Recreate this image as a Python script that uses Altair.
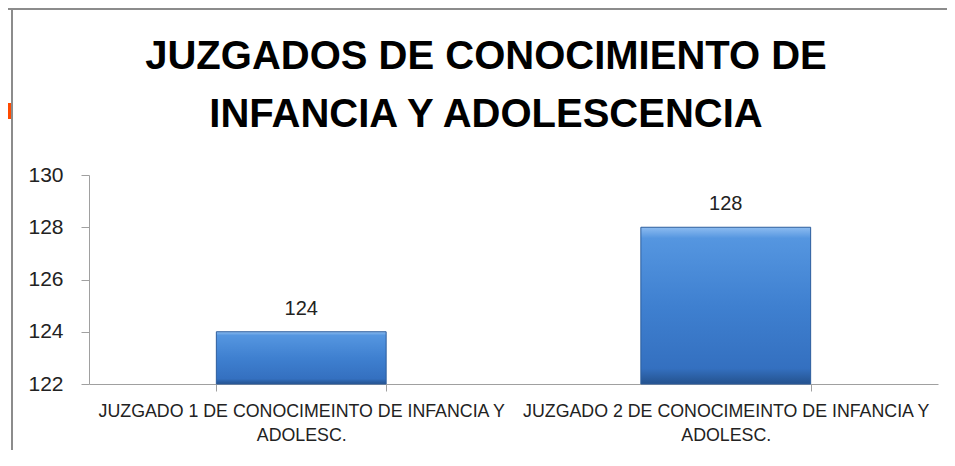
import altair as alt
import pandas as pd

categories = [
    "JUZGADO 1 DE CONOCIMEINTO DE INFANCIA Y\nADOLESC.",
    "JUZGADO 2 DE CONOCIMEINTO DE INFANCIA Y\nADOLESC.",
]
values = [124, 128]
y_ticks = [122, 124, 126, 128, 130]
title_lines = ["JUZGADOS DE CONOCIMIENTO DE", "INFANCIA Y ADOLESCENCIA"]

df = pd.DataFrame({"cat": categories, "val": values})

FONT = "Liberation Sans"

x_enc = alt.X(
    "cat:N",
    sort=categories,
    title=None,
    scale=alt.Scale(paddingInner=0.6, paddingOuter=0.3),
    axis=alt.Axis(
        labelExpr="split(datum.label, '\\n')",
        labelAngle=0,
        labelLimit=0,
        labelOverlap=False,
        labelFont=FONT,
        labelFontSize=17.8,
        labelColor="#222222",
        labelLineHeight=24,
        labelPadding=11,
        labelBaseline="top",
        tickBand="extent",
        tickSize=7,
        tickColor="#a0a0a0",
        domainColor="#a0a0a0",
        grid=False,
    ),
)

y_scale = alt.Scale(domain=[122, 130], nice=False, zero=False)

bars = alt.Chart(df).mark_bar(
    color=alt.Gradient(
        gradient="linear",
        x1=0, x2=0, y1=0, y2=1,
        stops=[
            alt.GradientStop(offset=0, color="#8dbcf0"),
            alt.GradientStop(offset=0.07, color="#5596e0"),
            alt.GradientStop(offset=0.5, color="#3f80d0"),
            alt.GradientStop(offset=0.9, color="#3470c0"),
            alt.GradientStop(offset=1, color="#24528e"),
        ],
    ),
    stroke="#2c5d9c",
    strokeWidth=1,
).encode(
    x=x_enc,
    y=alt.Y(
        "val:Q",
        scale=y_scale,
        title=None,
        axis=alt.Axis(
            values=y_ticks,
            labelFont=FONT,
            labelFontSize=21,
            labelColor="#222222",
            labelPadding=18,
            tickSize=8,
            tickColor="#a0a0a0",
            domainColor="#a0a0a0",
            grid=False,
        ),
    ),
    y2=alt.datum(122),
)

labels = alt.Chart(df).mark_text(
    font=FONT, fontSize=20, color="#222222", baseline="alphabetic", dy=-17
).encode(
    x=alt.X("cat:N", sort=categories),
    y=alt.Y("val:Q", scale=y_scale),
    text=alt.Text("val:Q"),
)

deco = pd.DataFrame({"a": [0]})
title1 = alt.Chart(deco).mark_text(
    text=title_lines[0], font=FONT, fontSize=40, fontWeight="bold",
    color="#000000", align="center", baseline="alphabetic",
).encode(x=alt.value(397), y=alt.value(-106))
title2 = alt.Chart(deco).mark_text(
    text=title_lines[1], font=FONT, fontSize=40, fontWeight="bold",
    color="#000000", align="center", baseline="alphabetic",
).encode(x=alt.value(397), y=alt.value(-48))

top_border = alt.Chart(deco).mark_rule(color="#8c8c8c", strokeWidth=2).encode(
    x=alt.value(-81), x2=alt.value(858), y=alt.value(-166)
)
left_border = alt.Chart(deco).mark_rule(color="#8c8c8c", strokeWidth=2).encode(
    x=alt.value(-77), y=alt.value(-167), y2=alt.value(275)
)
orange = alt.Chart(deco).mark_rule(color="#ff4a00", strokeWidth=4).encode(
    x=alt.value(-80), y=alt.value(-72), y2=alt.value(-56)
)

chart = (
    alt.layer(bars, labels, title1, title2, top_border, left_border, orange)
    .properties(
        width=849,
        height=209,
        autosize=alt.AutoSizeParams(type="none"),
        padding={"left": 81, "top": 167, "right": 9, "bottom": 66},
    )
    .configure(background="white")
    .configure_view(strokeWidth=0, stroke=None)
)

chart.save("out.html", embed_options={"renderer": "svg", "actions": False})
